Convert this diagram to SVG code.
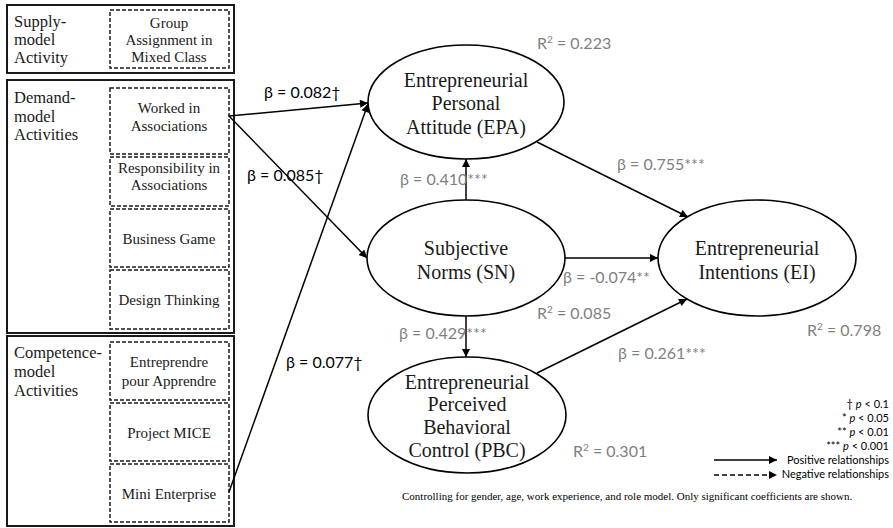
<svg xmlns="http://www.w3.org/2000/svg" width="893" height="528" viewBox="0 0 893 528">
<defs>
<marker id="ah" viewBox="0 0 10 10" refX="10" refY="5" markerWidth="9" markerHeight="8" markerUnits="userSpaceOnUse" orient="auto">
<path d="M0,0 L10,5 L0,10 z" fill="#000"/>
</marker>
<style>
.outer{fill:none;stroke:#1a1a1a;stroke-width:2}
.inner{fill:#fff;stroke:#1a1a1a;stroke-width:1.5;stroke-dasharray:4 2}
.ell{fill:#fff;stroke:#000;stroke-width:1.6}
.con{fill:none;stroke:#000;stroke-width:1.5;marker-end:url(#ah)}
.ser{font-family:'Liberation Serif','Times New Roman',serif}
.san{font-family:Lato,'Open Sans',sans-serif}
.grp{font-size:16.5px;fill:#1a1a1a}
.act{font-size:15px;fill:#1a1a1a;text-anchor:middle}
.node{font-size:20px;fill:#1a1a1a;text-anchor:middle}
.bk{font-size:16px;fill:#000}
.gr{font-size:16px;fill:#7f7f7f}
.leg{font-size:11px;fill:#000;text-anchor:end}
.foot{font-size:11px;fill:#000}
</style>
</defs>

<g id="supply-group" class="ser">
<rect class="outer" x="7" y="5" width="227" height="68"/>
<text class="grp" x="14" y="27">Supply-</text>
<text class="grp" x="14" y="45">model</text>
<text class="grp" x="14" y="63">Activity</text>
</g>
<g id="act-group-assignment" class="ser">
<rect class="inner" x="110" y="10" width="119" height="58"/>
<text class="act" x="169" y="28">Group</text>
<text class="act" x="169" y="45">Assignment in</text>
<text class="act" x="169" y="62">Mixed Class</text>
</g>

<g id="demand-group" class="ser">
<rect class="outer" x="7" y="80" width="227" height="253"/>
<text class="grp" x="14" y="103">Demand-</text>
<text class="grp" x="14" y="121.5">model</text>
<text class="grp" x="14" y="140">Activities</text>
</g>
<g id="act-worked" class="ser">
<rect class="inner" x="110" y="88" width="119" height="66"/>
<text class="act" x="169" y="113">Worked in</text>
<text class="act" x="169" y="131">Associations</text>
</g>
<g id="act-responsibility" class="ser">
<rect class="inner" x="110" y="157" width="119" height="49"/>
<text class="act" x="169" y="173">Responsibility in</text>
<text class="act" x="169" y="190">Associations</text>
</g>
<g id="act-business-game" class="ser">
<rect class="inner" x="110" y="209" width="119" height="58"/>
<text class="act" x="169" y="244">Business Game</text>
</g>
<g id="act-design-thinking" class="ser">
<rect class="inner" x="110" y="270" width="119" height="59"/>
<text class="act" x="169" y="305">Design Thinking</text>
</g>

<g id="competence-group" class="ser">
<rect class="outer" x="7" y="336" width="227" height="190"/>
<text class="grp" x="14" y="358">Competence-</text>
<text class="grp" x="14" y="377">model</text>
<text class="grp" x="14" y="396">Activities</text>
</g>
<g id="act-entreprendre" class="ser">
<rect class="inner" x="110" y="342" width="119" height="58"/>
<text class="act" x="169" y="367">Entreprendre</text>
<text class="act" x="169" y="386">pour Apprendre</text>
</g>
<g id="act-mice" class="ser">
<rect class="inner" x="110" y="403" width="119" height="58"/>
<text class="act" x="169" y="438">Project MICE</text>
</g>
<g id="act-mini" class="ser">
<rect class="inner" x="110" y="464" width="119" height="58"/>
<text class="act" x="169" y="499">Mini Enterprise</text>
</g>

<g id="connectors">
<line class="con" x1="229" y1="116" x2="368" y2="103"/>
<line class="con" x1="229" y1="116" x2="367" y2="258"/>
<line class="con" x1="229" y1="492" x2="368" y2="104"/>
<line class="con" x1="466" y1="200" x2="466" y2="159"/>
<line class="con" x1="466" y1="316" x2="466" y2="357"/>
<line class="con" x1="537" y1="142" x2="688" y2="217"/>
<line class="con" x1="565" y1="258" x2="658" y2="258"/>
<line class="con" x1="537" y1="373" x2="687" y2="299"/>
</g>

<g id="node-epa" class="ser">
<ellipse class="ell" cx="466" cy="102" rx="98" ry="57"/>
<text class="node" x="466" y="87">Entrepreneurial</text>
<text class="node" x="466" y="110">Personal</text>
<text class="node" x="466" y="134">Attitude (EPA)</text>
</g>
<g id="node-sn" class="ser">
<ellipse class="ell" cx="466" cy="258" rx="99" ry="58"/>
<text class="node" x="466" y="255">Subjective</text>
<text class="node" x="466" y="279">Norms (SN)</text>
</g>
<g id="node-ei" class="ser">
<ellipse class="ell" cx="757" cy="258" rx="99" ry="58"/>
<text class="node" x="757" y="255">Entrepreneurial</text>
<text class="node" x="757" y="279">Intentions (EI)</text>
</g>
<g id="node-pbc" class="ser">
<ellipse class="ell" cx="467" cy="415" rx="99" ry="58"/>
<text class="node" x="467" y="389">Entrepreneurial</text>
<text class="node" x="467" y="411">Perceived</text>
<text class="node" x="467" y="434">Behavioral</text>
<text class="node" x="467" y="457">Control (PBC)</text>
</g>

<g id="labels" class="san">
<text class="bk" x="264" y="98">β = 0.082†</text>
<text class="bk" x="247" y="181">β = 0.085†</text>
<text class="bk" x="286" y="368">β = 0.077†</text>
<text class="gr" x="537" y="49">R<tspan font-size="10" dy="-6">2</tspan><tspan dy="6"> = 0.223</tspan></text>
<text class="gr" x="400" y="185">β = 0.410***</text>
<text class="gr" x="617" y="170">β = 0.755***</text>
<text class="gr" x="563" y="283">β = -0.074**</text>
<text class="gr" x="537" y="319">R<tspan font-size="10" dy="-6">2</tspan><tspan dy="6"> = 0.085</tspan></text>
<text class="gr" x="399" y="339">β = 0.429***</text>
<text class="gr" x="618" y="359">β = 0.261***</text>
<text class="gr" x="807" y="336">R<tspan font-size="10" dy="-6">2</tspan><tspan dy="6"> = 0.798</tspan></text>
<text class="gr" x="573" y="457">R<tspan font-size="10" dy="-6">2</tspan><tspan dy="6"> = 0.301</tspan></text>
</g>

<g id="legend" class="san">
<text class="leg" x="889" y="408">† <tspan font-style="italic">p</tspan> &lt; 0.1</text>
<text class="leg" x="889" y="422">* <tspan font-style="italic">p</tspan> &lt; 0.05</text>
<text class="leg" x="889" y="436">** <tspan font-style="italic">p</tspan> &lt; 0.01</text>
<text class="leg" x="889" y="450">*** <tspan font-style="italic">p</tspan> &lt; 0.001</text>
<text class="leg" x="889" y="464">Positive relationships</text>
<text class="leg" x="889" y="478">Negative relationships</text>
<line x1="714" y1="460" x2="777" y2="460" stroke="#000" stroke-width="1.5" marker-end="url(#ah)"/>
<line x1="714" y1="475" x2="777" y2="475" stroke="#000" stroke-width="1.5" stroke-dasharray="5 3" marker-end="url(#ah)"/>
</g>

<text class="foot ser" x="402" y="500">Controlling for gender, age, work experience, and role model. Only significant coefficients are shown.</text>
</svg>
